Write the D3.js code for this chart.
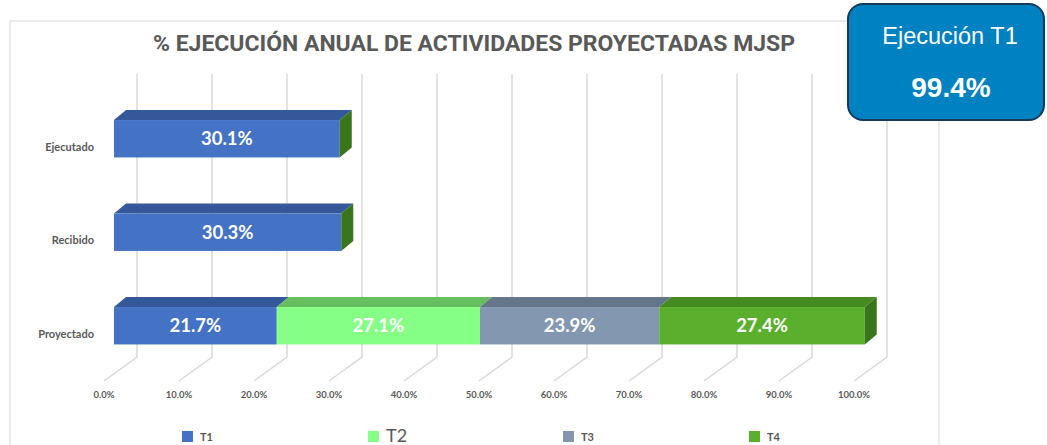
<!DOCTYPE html>
<html><head><meta charset="utf-8">
<script src="https://cdn.jsdelivr.net/npm/d3@7"></script>
<style>html,body{margin:0;padding:0;background:#fff;}svg{display:block;}</style>
</head><body>
<svg id="c" width="1047" height="445"></svg>
<script>
const categories = ["Ejecutado", "Recibido", "Proyectado"];
const seriesNames = ["T1", "T2", "T3", "T4"];
const T1 = [30.1, 30.3, 21.7];
const T2 = [0, 0, 27.1];
const T3 = [0, 0, 23.9];
const T4 = [0, 0, 27.4];
const tickValues = [0, 10, 20, 30, 40, 50, 60, 70, 80, 90, 100];
const titleText = "% EJECUCIÓN ANUAL DE ACTIVIDADES PROYECTADAS MJSP";
const calloutTitle = "Ejecución T1";
const calloutValue = "99.4%";

const seriesValues = [T1, T2, T3, T4];
const colors = {
  T1: {front: "#4472C4", top: "#35589A", side: "#2E4C85"},
  T2: {front: "#85FF85", top: "#66BE5E", side: "#4F9A47"},
  T3: {front: "#8497B0", top: "#66768A", side: "#56657A"},
  T4: {front: "#5AAF2D", top: "#468A22", side: "#3A751C"}
};
const legendFont = {T1: [11, "bold"], T2: [18, "normal"], T3: [11, "bold"], T4: [11, "bold"]};

const svg = d3.select("#c");
const FONT = "Lato, 'Open Sans', sans-serif";

// frame
svg.append("path").attr("d", "M10,445 L10,21 L939,21 L939,445")
  .attr("fill", "none").attr("stroke", "#d9d9d9").attr("stroke-width", 1);

// title
svg.append("text").attr("x", 474).attr("y", 51).attr("text-anchor", "middle")
  .attr("font-family", "'Liberation Sans Narrow', Roboto, sans-serif").attr("font-weight", "bold")
  .attr("font-size", 21.5).attr("fill", "#595959")
  .attr("textLength", 642).attr("lengthAdjust", "spacingAndGlyphs")
  .text(titleText);

// scales
const x = d3.scaleLinear().domain([0, 100]).range([114, 864]);
const y = d3.scaleBand().domain(categories).range([92, 92 + 3 * 93.5])
  .paddingInner(0.6).paddingOuter(0.3);

const floorFrontY = 381, floorBackY = 357, wallTop = 74;
const ffx = v => x(v) - 10;   // floor front
const fbx = v => x(v) + 23;   // back wall
const dX = 12, dY = 10;       // bar depth

// gridlines
const grid = svg.append("g").attr("stroke", "#d9d9d9").attr("stroke-width", 1.5).attr("fill", "none");
tickValues.forEach(v => {
  grid.append("path").attr("d",
    `M${fbx(v)},${wallTop} L${fbx(v)},${floorBackY} L${ffx(v)},${floorFrontY}`);
});

// tick labels
svg.append("g").selectAll("text").data(tickValues).join("text")
  .attr("x", d => ffx(d)).attr("y", 398).attr("text-anchor", "middle")
  .attr("font-family", FONT).attr("font-weight", "bold").attr("font-size", 9.5)
  .attr("fill", "#595959").text(d => d.toFixed(1) + "%");

// category labels
svg.append("g").selectAll("text").data(categories).join("text")
  .attr("x", 94).attr("y", d => y(d) + y.bandwidth() / 2 + 12)
  .attr("text-anchor", "end").attr("font-family", FONT).attr("font-weight", "bold")
  .attr("font-size", 11).attr("fill", "#595959").text(d => d);

// bars
const barsG = svg.append("g");
categories.forEach((cat, ci) => {
  const top = y(cat), bot = y(cat) + y.bandwidth();
  let cum = 0;
  const segs = [];
  seriesNames.forEach((s, si) => {
    const v = seriesValues[si][ci];
    segs.push({s, v, x0: cum, x1: cum + v});
    cum += v;
  });
  segs.forEach(sg => {
    if (sg.v <= 0) return;
    const a = x(sg.x0), b = x(sg.x1);
    barsG.append("path").attr("d",
      `M${a},${top} L${b},${top} L${b + dX},${top - dY} L${a + dX},${top - dY} Z`)
      .attr("fill", colors[sg.s].top);
  });
  segs.forEach(sg => {
    if (sg.v <= 0) return;
    barsG.append("rect").attr("x", x(sg.x0)).attr("y", top)
      .attr("width", x(sg.x1) - x(sg.x0)).attr("height", bot - top)
      .attr("fill", colors[sg.s].front);
  });
  const e = x(cum);
  barsG.append("path").attr("d",
    `M${e},${top} L${e + dX},${top - dY} L${e + dX},${bot - dY} L${e},${bot} Z`)
    .attr("fill", colors.T4.side);
  segs.forEach(sg => {
    if (sg.v <= 0) return;
    barsG.append("text").attr("x", (x(sg.x0) + x(sg.x1)) / 2).attr("y", (top + bot) / 2)
      .attr("dy", "0.35em").attr("text-anchor", "middle")
      .attr("font-family", FONT).attr("font-weight", "bold").attr("font-size", 18.5)
      .attr("fill", "#ffffff").text(sg.v.toFixed(1) + "%");
  });
});

// legend
const legendX = {T1: 182, T2: 368, T3: 563, T4: 749};
const lg = svg.append("g");
seriesNames.forEach(s => {
  lg.append("rect").attr("x", legendX[s]).attr("y", 431).attr("width", 11).attr("height", 11)
    .attr("fill", colors[s].front);
  lg.append("text").attr("x", legendX[s] + 18).attr("y", s === "T2" ? 441.5 : 441)
    .attr("font-family", FONT).attr("font-weight", legendFont[s][1])
    .attr("font-size", legendFont[s][0]).attr("fill", "#595959").text(s);
});

// callout box
const cb = svg.append("g");
cb.append("rect").attr("x", 848).attr("y", 4).attr("width", 196).attr("height", 116)
  .attr("rx", 15).attr("ry", 15).attr("fill", "#0081C1").attr("stroke", "#153A5B").attr("stroke-width", 2);
cb.append("text").attr("x", 950).attr("y", 44).attr("text-anchor", "middle")
  .attr("font-family", "'Liberation Sans', Arial, sans-serif").attr("font-size", 23.5)
  .attr("fill", "#fff").text(calloutTitle);
cb.append("text").attr("x", 951).attr("y", 97).attr("text-anchor", "middle")
  .attr("font-family", "'Liberation Sans', Arial, sans-serif").attr("font-weight", "bold")
  .attr("font-size", 28).attr("fill", "#fff").text(calloutValue);
</script>
</body></html>
